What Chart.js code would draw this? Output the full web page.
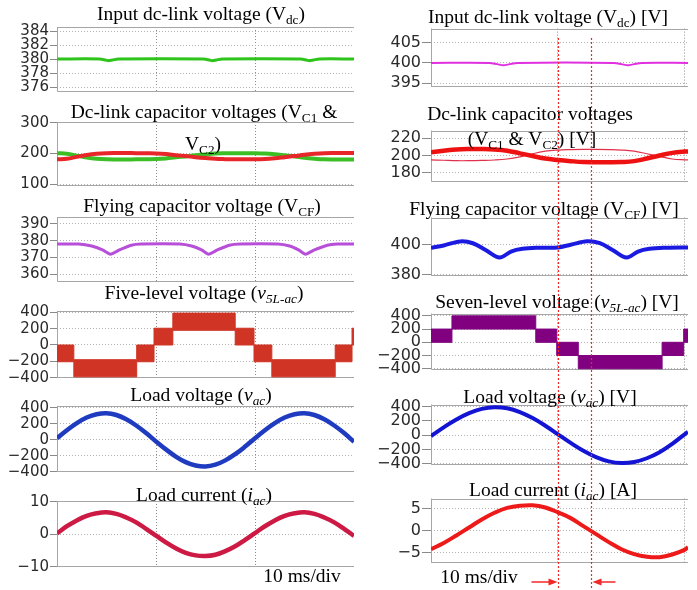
<!DOCTYPE html>
<html>
<head>
<meta charset="utf-8">
<script src="https://cdn.jsdelivr.net/npm/chart.js@4.4.1/dist/chart.umd.min.js"></script>
<style>
  body { margin: 0; width: 697px; height: 590px; position: relative; overflow: hidden; background: #fff; }
  canvas.panel { position: absolute; }
  .ttl {
    position: absolute; white-space: nowrap; line-height: 0; color: #000;
    font-family: "Liberation Serif", "Times New Roman", serif; font-size: 19.5px;
    transform: translateX(-50%); z-index: 2;
  }
  .ttl sub { font-size: 0.68em; vertical-align: -0.3em; line-height: 0; }
  #marks { position: absolute; left: 0; top: 0; z-index: 5; pointer-events: none; }
</style>
</head>
<body>

<div class="ttl" style="left:201px;top:14px">Input dc-link voltage (V<sub>dc</sub>)</div>
<div class="ttl" style="left:204px;top:112px">Dc-link capacitor voltages (V<sub>C1</sub> &amp;</div>
<div class="ttl" style="left:203px;top:144px">V<sub>C2</sub>)</div>
<div class="ttl" style="left:202px;top:206px">Flying capacitor voltage (V<sub>CF</sub>)</div>
<div class="ttl" style="left:204px;top:293px">Five-level voltage (<i>v<sub>5L-ac</sub></i>)</div>
<div class="ttl" style="left:201px;top:395px">Load voltage (<i>v<sub>ac</sub></i>)</div>
<div class="ttl" style="left:204px;top:495px">Load current (<i>i<sub>ac</sub></i>)</div>
<div class="ttl" style="left:302px;top:576px">10 ms/div</div>

<div class="ttl" style="left:548px;top:17px">Input dc-link voltage (V<sub>dc</sub>) [V]</div>
<div class="ttl" style="left:530px;top:114px">Dc-link capacitor voltages</div>
<div class="ttl" style="left:532px;top:139px">(V<sub>C1</sub> &amp; V<sub>C2</sub>) [V]</div>
<div class="ttl" style="left:544px;top:209px">Flying capacitor voltage (V<sub>CF</sub>) [V]</div>
<div class="ttl" style="left:557px;top:302px">Seven-level voltage (<i>v<sub>5L-ac</sub></i>) [V]</div>
<div class="ttl" style="left:550px;top:397px">Load voltage (<i>v<sub>ac</sub></i>) [V]</div>
<div class="ttl" style="left:553px;top:490px">Load current (<i>i<sub>ac</sub></i>) [A]</div>
<div class="ttl" style="left:479px;top:577px">10 ms/div</div>

<canvas id="marks" width="697" height="590"></canvas>

<script>
// ---- left column: five-level converter, 10 ms/div ----
const leftTime = [0, 1, 2, 3, 4, 5, 6, 7, 8, 9, 10, 11, 12, 13, 14, 15, 16, 17, 18, 19, 20, 21, 22, 23, 24, 25, 26, 27, 28, 29, 30];
const leftTimeTicks = [0, 10, 20, 30];

const vdcLeftTime = [0, 4.3, 4.9, 5.2, 5.6, 6.2, 14.8, 15.4, 15.7, 16.1, 16.7, 24.6, 25.2, 25.5, 25.9, 26.5, 30];
const vdcLeft = [380.05, 380.05, 379.9, 379.8, 379.9, 380.05, 380.05, 379.9, 379.8, 379.9, 380.05, 380.05, 379.9, 379.8, 379.9, 380.05, 380.05];
const vdcLeftTicks = [376, 378, 380, 382, 384];

const vc1Left = [201, 199, 193, 187, 183, 181, 180.5, 180.5, 181, 181.5, 182, 184, 187.5, 190.5, 194, 197, 199.5, 200.5, 201, 201, 201, 200, 197.5, 194, 190.5, 186, 183, 181, 180.5, 180.5, 180.5];
const vc2Left = [181, 183, 189, 195, 199, 201, 201.5, 201.5, 201, 200.5, 200, 198, 194.5, 191.5, 188, 185, 182.5, 181.5, 181, 181, 181, 182, 184.5, 188, 191.5, 196, 199, 201, 201.5, 201.5, 201.5];
const vcLeftTicks = [100, 200, 300];

const vcfLeftTime = [0, 2.2, 3.5, 4.6, 5.4, 6.3, 7.5, 8.5, 12.4, 13.6, 14.6, 15.3, 16.2, 17.4, 18.5, 22.3, 23.5, 24.4, 25.1, 26, 27.3, 28.3, 30];
const vcfLeft = [378, 378, 376.8, 374.5, 372, 374.5, 377.3, 378, 378, 376.8, 374.5, 372, 374.5, 377.3, 378, 378, 376.8, 374.5, 372, 374.5, 377.3, 378, 378];
const vcfLeftTicks = [360, 370, 380, 390];

const fiveTime = [0, 1.7, 8.05, 9.8, 11.7, 18.0, 19.9, 21.7, 28.1, 29.8, 30];
const fiveHigh = [0, -180, 0, 205, 390, 205, 0, -180, 0, 205, 205];
const fiveLow = [-205, -390, -205, 0, 180, 0, -205, -390, -205, 0, 0];
const fiveTicks = [-400, -200, 0, 200, 400];

const vacLeft = [20, 120, 210, 280, 322, 335, 312, 258, 180, 85, -20, -120, -210, -280, -322, -335, -312, -258, -180, -85, 20, 120, 210, 280, 322, 335, 312, 258, 180, 85, -25];
const vacLeftTicks = [-400, -200, 0, 200, 400];

const iacLeft = [0.3, 2.5, 4.3, 5.7, 6.5, 6.8, 6.3, 5.2, 3.7, 1.7, -0.4, -2.5, -4.3, -5.7, -6.5, -6.7, -6.3, -5.2, -3.7, -1.7, 0.4, 2.5, 4.3, 5.7, 6.5, 6.8, 6.3, 5.2, 3.7, 1.7, -0.5];
const iacLeftTicks = [-10, 0, 10];

// ---- right column: seven-level converter ----
const rightTime = [0, 1, 2, 3, 4, 5, 6, 7, 8, 9, 10, 11, 12, 13, 14, 15, 16, 17, 18, 19, 20, 20.24];
const rightTimeTicks = [0, 10, 20];
const markerTimes = [10, 12.6];

const vdcRightTime = [0, 4.6, 5.2, 5.7, 6.2, 6.8, 14.4, 15.0, 15.5, 16.0, 16.6, 20.24];
const vdcRight = [400, 400, 399.7, 399.4, 399.7, 400, 400, 399.7, 399.4, 399.7, 400, 400];
const vdcRightTicks = [395, 400, 405];

const vc1Right = [203.8, 205.5, 207, 207.5, 207.5, 207, 205.5, 202.5, 199.5, 196.5, 194.8, 193.5, 192.5, 192.3, 192.3, 192.5, 193.5, 196.5, 200, 203, 204.5, 204.5];
const vc2Right = [195, 194.5, 194, 194, 194.3, 194.8, 196, 198.5, 202, 205, 206.3, 206.8, 207, 207, 206.8, 206.3, 205, 202, 199, 196, 195, 195];
const vcRightTicks = [180, 200, 220];

const vcfRightTime = [0, 1, 2.3, 3.3, 4.3, 5.4, 6.3, 7.2, 8.5, 10, 11, 12.3, 13.3, 14.3, 15.4, 16.3, 17.2, 18.5, 20.24];
const vcfRight = [398, 399.5, 402.2, 401, 396.5, 391.5, 395.5, 397.3, 398, 398.2, 400, 402.3, 401, 396.5, 391.5, 395.5, 397.3, 398, 398.2];
const vcfRightTicks = [380, 400];

const sevenTime = [0, 1.65, 8.25, 9.9, 11.6, 18.2, 19.9, 20.24];
const sevenHigh = [200, 400, 200, 0, -200, 0, 200, 200];
const sevenLow = [0, 200, 0, -200, -400, -200, 0, 0];
const sevenTicks = [-400, -200, 0, 200, 400];

const vacRight = [-12, 109, 219, 308, 367, 390, 375, 323, 239, 132, 12, -109, -219, -308, -367, -390, -375, -323, -239, -122, 15, 45];
const vacRightTicks = [-400, -200, 0, 200, 400];

const iacRight = [-4.2, -2.8, -1.1, 0.7, 2.5, 4.0, 5.1, 5.6, 5.7, 5.2, 4.1, 2.8, 1.0, -0.8, -2.6, -4.2, -5.3, -5.9, -6.0, -5.4, -4.3, -3.7];
const iacRightTicks = [-5, 0, 5];

// ---- layout ----
const LEFT = { x: 0, axis: 57, right: 354, tMax: 30, tTicks: leftTimeTicks, tick: 7, font: 15 };
const RIGHT = { x: 370, axis: 61, right: 688, tMax: 20.24, tTicks: rightTimeTicks, tick: 9, font: 16 };
const PAD = 10;

const pts = (ts, vs) => ts.map((t, i) => ({ x: t, y: vs[i] }));

function trace(ts, vs, color, width, tension) {
  return { data: pts(ts, vs), borderColor: color, borderWidth: width, tension: tension, fill: false };
}

function band(ts, hi, lo, color) {
  return [
    { data: pts(ts, hi), stepped: true, borderColor: color, borderWidth: 1, backgroundColor: color, fill: '+1' },
    { data: pts(ts, lo), stepped: true, borderColor: color, borderWidth: 1, fill: false }
  ];
}

// grey plot frame: left, top and bottom edges (the right edge is the last grid line)
const frame = {
  id: 'frame',
  beforeDatasetsDraw(chart) {
    const { ctx, chartArea: a } = chart;
    const l = Math.round(a.left) + 0.5, t = Math.round(a.top) + 0.5, b = Math.round(a.bottom) - 0.5;
    ctx.save();
    ctx.strokeStyle = '#a6a6a6';
    ctx.lineWidth = 1;
    ctx.beginPath();
    ctx.moveTo(a.right, t); ctx.lineTo(l, t); ctx.lineTo(l, b); ctx.lineTo(a.right, b);
    ctx.stroke();
    ctx.restore();
  }
};

function panel(col, box, yMin, yMax, yTicks, datasets) {
  const c = document.createElement('canvas');
  c.className = 'panel';
  c.width = col.right - col.x;
  c.height = box[1] - box[0] + 2 * PAD;
  c.style.left = col.x + 'px';
  c.style.top = (box[0] - PAD) + 'px';
  document.body.appendChild(c);

  return new Chart(c, {
    type: 'line',
    data: { datasets: datasets },
    options: {
      responsive: false,
      animation: false,
      layout: { padding: { top: PAD, bottom: PAD, left: 0, right: 0 } },
      elements: { point: { radius: 0 } },
      plugins: { legend: { display: false }, tooltip: { enabled: false } },
      scales: {
        x: {
          type: 'linear', min: 0, max: col.tMax, bounds: 'data',
          afterBuildTicks: s => { s.ticks = col.tTicks.map(v => ({ value: v })); },
          afterFit: s => { s.height = 0; },
          ticks: { display: false },
          grid: { drawTicks: false, color: '#8c8c8c' },
          border: { display: false, dash: [1, 2] }
        },
        y: {
          type: 'linear', min: yMin, max: yMax, bounds: 'data',
          afterBuildTicks: s => { s.ticks = yTicks.map(v => ({ value: v })); },
          afterFit: s => { s.width = col.axis; },
          ticks: {
            autoSkip: false, padding: 1, color: '#2a2a2a',
            font: { family: "'DejaVu Sans', sans-serif", size: col.font },
            callback: v => String(v).replace('-', '\u2212')
          },
          grid: { color: '#b4b4b4', tickLength: col.tick, tickColor: '#8a8a8a', tickBorderDash: [] },
          border: { display: false, dash: [1, 2] }
        }
      }
    },
    plugins: [frame]
  });
}

// left column
panel(LEFT, [27, 92], 375.35, 384.6, vdcLeftTicks,
  [trace(vdcLeftTime, vdcLeft, '#2ec41c', 3, 0.3)]);
panel(LEFT, [122, 186], 94.5, 302, vcLeftTicks,
  [trace(leftTime, vc2Left, '#e8262a', 4, 0.4), trace(leftTime, vc1Left, '#3cbf25', 4, 0.4)]);
panel(LEFT, [217, 282], 355.5, 394, vcfLeftTicks,
  [trace(vcfLeftTime, vcfLeft, '#b84fd8', 3, 0.2)]);
panel(LEFT, [311, 378], -404, 416, fiveTicks,
  band(fiveTime, fiveHigh, fiveLow, '#cf3424'));
panel(LEFT, [406, 472], -404, 425, vacLeftTicks,
  [trace(leftTime, vacLeft, '#1f3cc0', 4.5, 0.4)]);
panel(LEFT, [501, 567], -10.1, 10.3, iacLeftTicks,
  [trace(leftTime, iacLeft, '#cc1a44', 4.5, 0.4)]);

// right column
const rightCharts = [
  panel(RIGHT, [28, 88], 394, 408.4, vdcRightTicks,
    [trace(vdcRightTime, vdcRight, '#e030e0', 2, 0.3)]),
  panel(RIGHT, [130, 183], 169, 228.7, vcRightTicks,
    [trace(rightTime, vc1Right, '#ee1111', 4.5, 0.4), trace(rightTime, vc2Right, '#e0304a', 1.2, 0.4)]),
  panel(RIGHT, [217, 277], 379, 418, vcfRightTicks,
    [trace(vcfRightTime, vcfRight, '#1a1ae0', 4, 0.35)]),
  panel(RIGHT, [313, 371], -425, 434, sevenTicks,
    band(sevenTime, sevenHigh, sevenLow, '#800080')),
  panel(RIGHT, [404, 466], -423, 427, vacRightTicks,
    [trace(rightTime, vacRight, '#1414d4', 4, 0.4)]),
  panel(RIGHT, [498, 564], -7.4, 7.2, iacRightTicks,
    [trace(rightTime, iacRight, '#ee1a1a', 4, 0.4)])
];

// red time markers across the right column, with the arrows at the bottom
(function drawMarkers() {
  const ctx = document.getElementById('marks').getContext('2d');
  const xScale = rightCharts[0].scales.x;
  const xs = markerTimes.map(t => Math.round(RIGHT.x + xScale.getPixelForValue(t)) + 0.5);

  ctx.strokeStyle = '#f02828';
  ctx.lineWidth = 1.2;
  ctx.setLineDash([2, 2]);
  xs.forEach(x => {
    ctx.beginPath();
    ctx.moveTo(x, 38);
    ctx.lineTo(x, 590);
    ctx.stroke();
  });

  ctx.setLineDash([]);
  ctx.fillStyle = '#f02828';
  ctx.lineWidth = 1.5;
  const arrow = (from, to, y) => {
    const dir = Math.sign(to - from);
    ctx.beginPath();
    ctx.moveTo(from, y);
    ctx.lineTo(to - dir * 6, y);
    ctx.stroke();
    ctx.beginPath();
    ctx.moveTo(to, y);
    ctx.lineTo(to - dir * 9, y - 3.5);
    ctx.lineTo(to - dir * 9, y + 3.5);
    ctx.closePath();
    ctx.fill();
  };
  arrow(xs[0] - 27, xs[0] - 1, 582);
  arrow(xs[1] + 24, xs[1] + 1, 582);
})();
</script>
</body>
</html>
